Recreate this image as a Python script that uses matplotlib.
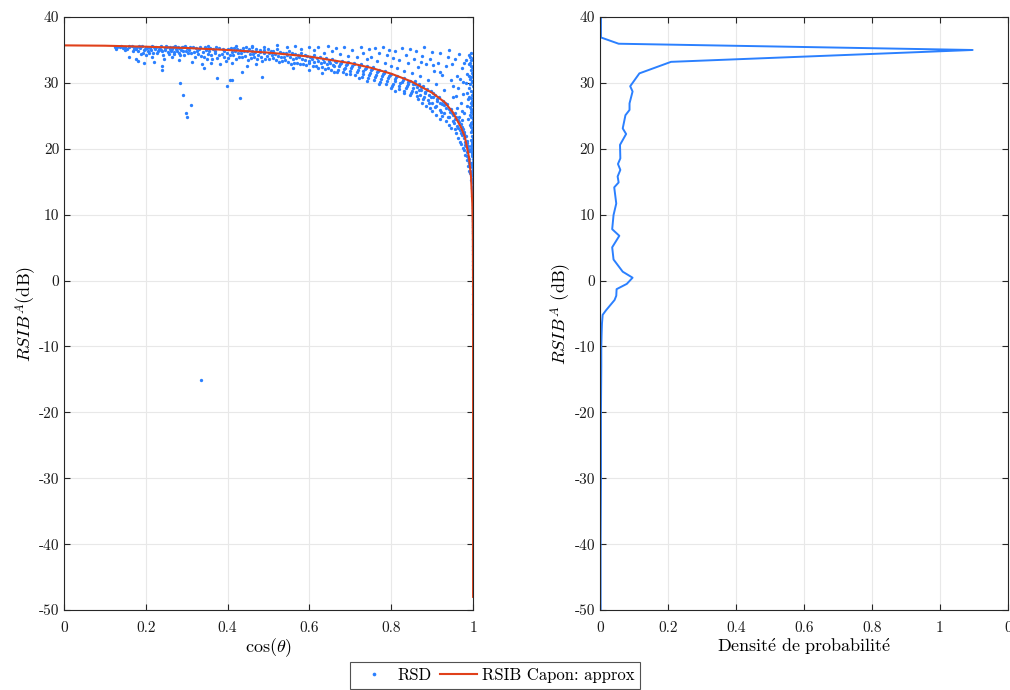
import matplotlib
matplotlib.use("Agg")
import matplotlib.pyplot as plt

plt.rcParams["font.family"] = ["cmr10", "DejaVu Serif"]
plt.rcParams["mathtext.fontset"] = "cm"
plt.rcParams["axes.formatter.use_mathtext"] = True
plt.rcParams["axes.unicode_minus"] = False

# RSIB Capon approx (red curve)
capon_cos = [0.0, 0.1, 0.2, 0.3, 0.4, 0.5, 0.6, 0.7, 0.75, 0.8, 0.85, 0.9, 0.93,
             0.95, 0.97, 0.98, 0.99, 0.995, 0.998, 0.999, 0.9995, 0.9999, 0.99999, 1.0]
capon_db = [35.7, 35.65, 35.5, 35.3, 35.0, 34.6, 34.0, 33.0, 32.3, 31.4, 30.2, 28.5, 27.1,
            25.6, 23.3, 21.8, 18.7, 15.7, 11.7, 8.7, 5.7, -1.3, -11.3, -48.0]

# RSD points: dense band along the curve
band = [
    (0.125, 35.5), (0.13, 35.4), (0.14, 35.6), (0.145, 35.3), (0.15, 35.5), (0.155, 35.2),
    (0.16, 35.4), (0.165, 35.6), (0.17, 35.1), (0.172, 35.4), (0.178, 35.5), (0.18, 34.9),
    (0.185, 35.3), (0.19, 35.6), (0.193, 34.6), (0.198, 35.2), (0.2, 35.5), (0.205, 34.9),
    (0.21, 35.3), (0.214, 35.6), (0.218, 34.5), (0.222, 35.1), (0.226, 35.4), (0.23, 34.8),
    (0.234, 35.5), (0.238, 35.0), (0.242, 34.3), (0.246, 35.3), (0.25, 35.6), (0.254, 34.7),
    (0.258, 35.2), (0.262, 34.9), (0.266, 35.5), (0.27, 34.4), (0.274, 35.1), (0.278, 35.4),
    (0.282, 34.6), (0.286, 35.0), (0.29, 35.5), (0.294, 34.2), (0.298, 34.8), (0.3, 35.3),
    (0.16, 34.0), (0.175, 33.7), (0.2, 34.2), (0.215, 33.9), (0.245, 33.6), (0.265, 34.0),
    (0.28, 33.5),
    (0.305, 35.0), (0.31, 34.5), (0.315, 35.4), (0.32, 33.9), (0.325, 34.8), (0.33, 35.2),
    (0.335, 34.1), (0.34, 34.7), (0.345, 35.4), (0.35, 33.6), (0.355, 34.9), (0.36, 34.3),
    (0.365, 35.1), (0.37, 34.6), (0.375, 33.8), (0.38, 35.3), (0.385, 34.4), (0.39, 34.9),
    (0.395, 33.4), (0.4, 35.1), (0.405, 34.2), (0.41, 34.7), (0.415, 35.3), (0.42, 33.7),
    (0.425, 34.5), (0.43, 35.0), (0.435, 34.0), (0.44, 34.8), (0.445, 35.4), (0.45, 33.5),
    (0.455, 34.4), (0.46, 34.9), (0.465, 33.9), (0.47, 35.2), (0.475, 34.3), (0.48, 34.7),
    (0.485, 33.3), (0.49, 35.0), (0.495, 34.1), (0.5, 34.6),
    (0.312, 33.2), (0.338, 32.9), (0.36, 33.1), (0.382, 32.8), (0.41, 33.0), (0.447, 32.6),
    (0.47, 32.9), (0.353, 35.6), (0.42, 35.6), (0.46, 35.5),
    (0.505, 34.9), (0.51, 33.8), (0.515, 34.4), (0.52, 35.1), (0.525, 33.2), (0.53, 34.0),
    (0.535, 34.6), (0.54, 33.5), (0.545, 34.2), (0.55, 34.9), (0.555, 32.9), (0.56, 33.7),
    (0.565, 34.4), (0.57, 33.1), (0.575, 33.9), (0.58, 34.6), (0.585, 32.8), (0.59, 33.5),
    (0.595, 34.1), (0.6, 33.0), (0.605, 33.7), (0.61, 34.3), (0.615, 32.6), (0.62, 33.4),
    (0.625, 33.9), (0.63, 32.4), (0.635, 33.2), (0.64, 33.8), (0.645, 32.2), (0.65, 33.0),
    (0.655, 33.6), (0.66, 32.5), (0.665, 33.2), (0.67, 31.9), (0.675, 32.8), (0.68, 33.4),
    (0.685, 32.1), (0.69, 32.7), (0.695, 33.2), (0.7, 31.8),
    (0.56, 32.3), (0.6, 31.9), (0.63, 31.5), (0.66, 31.6), (0.69, 31.3),
    (0.705, 32.6), (0.71, 33.0), (0.715, 31.7), (0.72, 32.4), (0.725, 32.9), (0.73, 31.4),
    (0.735, 32.1), (0.74, 32.6), (0.745, 31.2), (0.75, 31.9), (0.755, 32.4), (0.76, 30.9),
    (0.765, 31.6), (0.77, 32.0), (0.775, 30.6), (0.78, 31.3), (0.785, 31.8), (0.79, 30.3),
    (0.795, 31.0), (0.8, 31.4), (0.805, 29.9), (0.81, 30.6), (0.815, 31.0), (0.82, 29.6),
    (0.825, 30.2), (0.83, 30.7), (0.835, 29.2), (0.84, 29.9), (0.845, 30.3), (0.85, 28.8),
    (0.74, 30.3), (0.77, 29.9), (0.8, 29.2), (0.83, 28.5), (0.81, 28.8), (0.845, 28.1),
    (0.72, 30.8),
    (0.853, 29.9), (0.857, 30.3), (0.86, 28.6), (0.863, 29.4), (0.867, 29.9), (0.87, 28.2),
    (0.873, 29.0), (0.877, 29.5), (0.88, 27.8), (0.883, 28.6), (0.887, 29.1), (0.89, 27.4),
    (0.893, 28.2), (0.897, 28.7), (0.9, 26.9), (0.903, 27.8), (0.907, 28.2), (0.91, 26.5),
    (0.913, 27.3), (0.917, 27.8), (0.92, 25.9), (0.923, 26.8), (0.927, 27.3), (0.93, 25.4),
    (0.933, 26.2), (0.937, 26.8), (0.94, 24.8), (0.943, 25.6), (0.947, 26.1), (0.95, 24.2),
    (0.875, 27.0), (0.9, 25.8), (0.92, 24.6), (0.94, 23.6), (0.935, 24.2), (0.91, 25.2),
    (0.885, 26.5), (0.895, 26.2), (0.925, 25.0), (0.945, 23.2), (0.865, 27.5),
    (0.952, 25.2), (0.955, 24.6), (0.957, 25.4), (0.96, 23.5), (0.962, 24.4), (0.965, 24.9),
    (0.967, 22.8), (0.97, 23.7), (0.972, 24.3), (0.974, 22.1), (0.976, 23.0), (0.978, 22.6),
    (0.98, 21.0), (0.982, 21.9), (0.983, 20.4), (0.985, 21.2), (0.986, 19.5), (0.987, 20.4),
    (0.988, 18.7), (0.989, 19.6), (0.99, 18.0),
    (0.958, 22.4), (0.964, 21.6), (0.97, 20.8), (0.975, 20.1), (0.98, 19.1), (0.984, 18.3),
    (0.987, 17.4), (0.99, 16.6), (0.955, 23.0), (0.968, 21.0), (0.978, 19.8),
    # second pass, filling the band
    (0.128, 35.2), (0.136, 35.5), (0.148, 35.0), (0.158, 35.6), (0.168, 34.8), (0.176, 35.2),
    (0.183, 35.6), (0.188, 34.4), (0.196, 35.0), (0.203, 35.3), (0.208, 34.6), (0.212, 35.0),
    (0.22, 35.5), (0.228, 34.5), (0.232, 35.2), (0.236, 35.6), (0.24, 34.8), (0.248, 35.0),
    (0.252, 35.4), (0.256, 34.4), (0.26, 35.5), (0.264, 35.2), (0.268, 34.7), (0.272, 35.6),
    (0.276, 34.9), (0.28, 35.3), (0.284, 34.3), (0.288, 35.4), (0.292, 34.9), (0.296, 35.6),
    (0.302, 34.5), (0.308, 35.5), (0.318, 34.7), (0.322, 35.3), (0.328, 34.4), (0.332, 35.5),
    (0.342, 33.9), (0.348, 35.0), (0.352, 34.4), (0.358, 35.3), (0.362, 33.7), (0.368, 34.9),
    (0.372, 35.4), (0.378, 34.2), (0.388, 35.1), (0.392, 34.0), (0.398, 34.6), (0.402, 33.8),
    (0.408, 35.3), (0.412, 34.3), (0.418, 34.9), (0.422, 35.2), (0.428, 33.9), (0.432, 34.6),
    (0.438, 35.3), (0.442, 34.1), (0.448, 34.9), (0.452, 35.2), (0.458, 33.8), (0.462, 34.4),
    (0.468, 34.7), (0.472, 33.6), (0.478, 35.0), (0.482, 34.0), (0.488, 34.5), (0.492, 33.7),
    (0.498, 35.2), (0.502, 33.6), (0.508, 34.3), (0.512, 34.8), (0.518, 33.5), (0.522, 34.1),
    (0.528, 34.7), (0.532, 33.4), (0.538, 34.0), (0.542, 34.6), (0.548, 33.2), (0.552, 33.9),
    (0.558, 34.5), (0.562, 33.0), (0.568, 33.8), (0.572, 34.3), (0.578, 32.9), (0.582, 33.6),
    (0.588, 34.2), (0.592, 32.7), (0.598, 33.4), (0.602, 34.0), (0.608, 32.5), (0.612, 33.2),
    (0.618, 33.8), (0.622, 32.3), (0.628, 33.0), (0.632, 33.6), (0.638, 32.1), (0.642, 32.8),
    (0.648, 33.4), (0.652, 31.9), (0.658, 32.7), (0.662, 33.3), (0.668, 31.7), (0.672, 32.5),
    (0.678, 33.0), (0.682, 31.6), (0.688, 32.3), (0.692, 32.9), (0.698, 31.4), (0.702, 32.2),
    (0.708, 32.8), (0.712, 31.2), (0.718, 32.0), (0.722, 32.6), (0.728, 30.9), (0.732, 31.8),
    (0.738, 32.3), (0.742, 30.7), (0.748, 31.5), (0.752, 32.1), (0.758, 30.4), (0.762, 31.2),
    (0.768, 31.8), (0.772, 30.2), (0.778, 31.0), (0.782, 31.5), (0.788, 29.8), (0.792, 30.7),
    (0.798, 31.2), (0.802, 29.5), (0.808, 30.3), (0.812, 30.9), (0.818, 29.1), (0.822, 30.0),
    (0.828, 30.5), (0.832, 28.8), (0.838, 29.6), (0.842, 30.1), (0.848, 28.4), (0.852, 29.3),
    (0.858, 29.8), (0.862, 28.0), (0.868, 28.9), (0.872, 29.4), (0.878, 27.6), (0.882, 28.4),
    (0.888, 28.9), (0.892, 27.0), (0.898, 27.9), (0.902, 28.4), (0.908, 26.3), (0.912, 27.5),
    (0.918, 27.0), (0.922, 25.6), (0.928, 26.6), (0.932, 27.0), (0.938, 24.9), (0.942, 26.0),
    (0.948, 25.4), (0.953, 23.9), (0.958, 24.8), (0.963, 23.2), (0.966, 24.0), (0.971, 22.4),
    (0.973, 23.3), (0.977, 21.6), (0.979, 22.3), (0.981, 20.6), (0.984, 20.9), (0.986, 18.9),
    (0.988, 19.9), (0.989, 17.9), (0.991, 18.4), (0.992, 16.4), (0.993, 17.2), (0.994, 15.3),
]

# RSD points: sparse cloud above the curve
upper = [
    (0.46, 35.6), (0.49, 35.5), (0.52, 35.7), (0.545, 35.4), (0.565, 35.6), (0.58, 35.2),
    (0.6, 35.5), (0.61, 35.0), (0.62, 35.4), (0.635, 34.6), (0.645, 35.6), (0.655, 34.9),
    (0.665, 35.3), (0.675, 34.4), (0.685, 35.5), (0.695, 34.1), (0.705, 35.0), (0.715, 33.9),
    (0.725, 35.4), (0.73, 34.5), (0.74, 33.6), (0.745, 35.1), (0.75, 34.0), (0.76, 35.3),
    (0.765, 33.4), (0.77, 34.6), (0.78, 35.5), (0.785, 33.0), (0.79, 34.2), (0.795, 35.0),
    (0.8, 32.6), (0.805, 33.8), (0.81, 34.9), (0.815, 32.3), (0.82, 33.5), (0.825, 35.3),
    (0.83, 31.8), (0.835, 34.3), (0.84, 33.0), (0.845, 35.1), (0.85, 31.5), (0.855, 33.7),
    (0.86, 34.8), (0.865, 32.4), (0.87, 31.0), (0.875, 34.1), (0.88, 35.4), (0.885, 32.9),
    (0.89, 30.5), (0.895, 33.6), (0.9, 34.7), (0.905, 31.8), (0.91, 29.9), (0.915, 33.0),
    (0.92, 34.5), (0.925, 31.2), (0.93, 28.9), (0.935, 32.5), (0.94, 35.0), (0.945, 30.4),
    (0.95, 27.8), (0.955, 33.6), (0.96, 31.0), (0.963, 29.2), (0.966, 34.4), (0.97, 27.0),
    (0.973, 32.2), (0.976, 30.1), (0.979, 25.5), (0.982, 33.5), (0.984, 28.4), (0.986, 31.3),
    (0.988, 24.6), (0.99, 34.2), (0.985, 26.5), (0.975, 28.3), (0.96, 26.2),
    (0.872, 33.2), (0.902, 32.7), (0.918, 31.6), (0.938, 33.9), (0.952, 29.6), (0.968, 30.6),
    (0.978, 33.0), (0.983, 30.0), (0.987, 27.6), (0.972, 25.8), (0.958, 28.0), (0.948, 32.8),
]

# RSD points: vertical column close to cos = 1
column = [
    (0.996, 34.5), (0.999, 33.8), (0.993, 33.1), (0.998, 32.4), (0.995, 31.9), (1.0, 31.2),
    (0.992, 30.6), (0.997, 30.1), (0.999, 29.5), (0.994, 28.8), (0.998, 28.2), (0.996, 27.7),
    (1.0, 27.1), (0.993, 26.4), (0.997, 25.9), (0.999, 25.3), (0.995, 24.8), (0.998, 24.1),
    (0.992, 23.6), (1.0, 23.0), (0.996, 22.5), (0.999, 21.8), (0.994, 21.3), (0.998, 20.7),
    (1.0, 20.1), (0.995, 19.6), (0.997, 19.0), (0.999, 18.4), (0.996, 17.8), (1.0, 17.3),
    (0.998, 16.7), (0.997, 16.0), (0.999, 15.4), (1.0, 14.8), (0.998, 14.1), (0.999, 13.5),
    (1.0, 12.8), (0.999, 12.1), (1.0, 11.4), (0.999, 10.6), (1.0, 9.8), (0.9995, 9.0),
    (1.0, 8.1), (0.9995, 7.2), (1.0, 6.3), (1.0, 5.2), (0.9995, 4.1), (1.0, 3.0),
    (1.0, 1.8), (1.0, 0.6), (1.0, -0.8), (1.0, -2.1), (1.0, -3.5), (1.0, -5.0),
    (0.991, 32.9), (0.994, 30.9), (0.99, 29.2), (0.997, 27.3), (0.993, 25.1), (0.991, 27.9),
    (0.995, 23.3), (0.997, 21.1), (0.994, 19.9), (0.998, 18.9), (0.996, 16.5), (0.999, 14.4),
    (0.998, 12.9), (0.999, 11.0), (1.0, 10.2), (0.999, 8.5), (1.0, 7.6), (1.0, 4.6),
    (0.992, 34.0), (0.995, 32.6), (0.998, 30.3), (0.993, 29.8), (0.996, 26.1), (0.999, 24.5),
    (0.997, 22.9), (1.0, 21.5), (0.998, 19.3), (0.999, 17.0), (1.0, 15.6), (0.9995, 13.2),
    (0.994, 33.5), (0.997, 31.5), (0.991, 31.0), (0.999, 28.6), (0.995, 27.0), (0.998, 26.7),
    (0.994, 25.6), (0.999, 23.8), (0.996, 23.9), (0.998, 22.0), (0.996, 20.4), (1.0, 18.0),
    (0.997, 17.5), (0.998, 15.0), (0.999, 16.2), (1.0, 13.8), (0.999, 9.4), (1.0, 2.4),
]

# RSD outliers
outliers = [
    (0.335, -15.1), (0.284, 30.0), (0.29, 28.2), (0.31, 26.6), (0.298, 25.4), (0.30, 24.9),
    (0.429, 27.7), (0.398, 29.5), (0.239, 32.5), (0.239, 31.9), (0.373, 30.7), (0.406, 30.5),
    (0.41, 30.5), (0.483, 30.85), (0.434, 31.7), (0.343, 32.3), (0.18, 33.4), (0.195, 33.0),
    (0.22, 33.2),
]

# density of RSIB (right panel)
dens_db = [40, 36.9, 35.95, 35.0, 33.2, 31.45, 29.5, 28.7, 26.9, 25.9, 25.1, 23.1, 22.25,
           20.6, 18.55, 17.7, 16.8, 15.8, 14.9, 14.15, 11.7, 9.95, 7.8, 6.8, 5.05, 3.2,
           1.35, 0.44, -0.5, -1.3, -2.3, -2.95, -4.5, -5.2, -6.5, -8.0, -10, -13, -20,
           -30, -40, -50]
dens_p = [0.003, 0.003, 0.055, 1.096, 0.209, 0.116, 0.089, 0.096, 0.087, 0.087, 0.075,
          0.067, 0.077, 0.059, 0.060, 0.053, 0.060, 0.052, 0.055, 0.042, 0.048, 0.040,
          0.036, 0.057, 0.036, 0.040, 0.067, 0.096, 0.079, 0.049, 0.048, 0.043, 0.018,
          0.008, 0.006, 0.005, 0.004, 0.004, 0.003, 0.003, 0.002, 0.002]

y_ticks = [-50, -40, -30, -20, -10, 0, 10, 20, 30, 40]
y_ticklabels = ["-50", "-40", "-30", "-20", "-10", "0", "10", "20", "30", "40"]
left_xticks = [0, 0.2, 0.4, 0.6, 0.8, 1]
left_xticklabels = ["0", "0.2", "0.4", "0.6", "0.8", "1"]
right_xticks = [0, 0.2, 0.4, 0.6, 0.8, 1, 1.2]
right_xticklabels = ["0", "0.2", "0.4", "0.6", "0.8", "1", "0"]

BLUE = "#2b80ff"
RED = "#e0401a"
AXC = "#262626"


def style_axes(ax):
    ax.grid(True, color="#e8e8e8", linewidth=0.8)
    ax.set_axisbelow(True)
    for sp in ax.spines.values():
        sp.set_color(AXC)
        sp.set_linewidth(0.8)
    ax.tick_params(direction="in", top=True, right=True, length=4,
                   width=0.8, color=AXC, labelsize=11, labelcolor="#1a1a1a")
    ax.tick_params(axis="x", pad=8)
    ax.set_yticks(y_ticks)
    ax.set_yticklabels(y_ticklabels)
    ax.set_ylim(-50, 40)


fig = plt.figure(figsize=(10.1, 6.9), dpi=100)
ax1 = fig.add_axes([0.0634, 0.1159, 0.405, 0.8594])
ax2 = fig.add_axes([0.594, 0.1159, 0.404, 0.8594])

pts = band + upper + column + outliers
rsd_cos = [p[0] for p in pts]
rsd_db = [p[1] for p in pts]

ax1.plot(rsd_cos, rsd_db, linestyle="none", marker="o", markersize=2.4,
         markeredgewidth=0, color=BLUE, label="RSD")
ax1.plot(capon_cos, capon_db, color=RED, linewidth=1.5, label="RSIB Capon: approx")
style_axes(ax1)
ax1.set_xlim(0, 1)
ax1.set_xticks(left_xticks)
ax1.set_xticklabels(left_xticklabels)
ax1.set_xlabel(r"$\cos(\theta)$", fontsize=13, labelpad=1)
ax1.set_ylabel(r"$RSIB^A$(dB)", fontsize=13, labelpad=0)

ax2.plot(dens_p, dens_db, color=BLUE, linewidth=1.4)
style_axes(ax2)
ax2.set_xlim(0, 1.2)
ax2.set_xticks(right_xticks)
ax2.set_xticklabels(right_xticklabels)
ax2.set_xlabel(r"$\mathrm{Densit\acute{e}\ de\ probabilit\acute{e}}$", fontsize=13, labelpad=1)
ax2.set_ylabel(r"$RSIB^A$ (dB)", fontsize=13, labelpad=0)

h, l = ax1.get_legend_handles_labels()
leg = fig.legend(h, l, loc="upper center", bbox_to_anchor=(0.49, 0.0406), ncol=2,
                 fontsize=12, frameon=True, fancybox=False, edgecolor=AXC,
                 handlelength=2.2, columnspacing=0.5, handletextpad=0.3,
                 borderpad=0.35, borderaxespad=0, markerscale=1.1)
leg.get_frame().set_linewidth(0.8)

fig.savefig("out.png", dpi=100)
